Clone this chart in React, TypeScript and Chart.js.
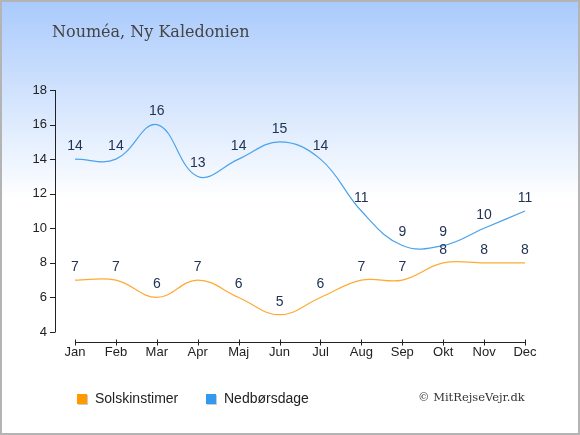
import { useEffect, useRef } from 'react';
import { Chart, registerables } from 'chart.js';

Chart.register(...registerables);

const months = ['Jan', 'Feb', 'Mar', 'Apr', 'Maj', 'Jun', 'Jul', 'Aug', 'Sep', 'Okt', 'Nov', 'Dec'];
const sunHours = [7, 7, 6, 7, 6, 5, 6, 7, 7, 8, 8, 8];
const rainDays = [14, 14, 16, 13, 14, 15, 14, 11, 9, 9, 10, 11];
const yTicks = [4, 6, 8, 10, 12, 14, 16, 18];
const legendLabels = ['Solskinstimer', 'Nedbørsdage'];
const titleText = 'Nouméa, Ny Kaledonien';
const creditText = '© MitRejseVejr.dk';

const decorPlugin = {
  id: 'decor',
  beforeDraw(chart: any) {
    const { ctx, width, height } = chart;
    ctx.save();
    const g = ctx.createLinearGradient(0, 0, 0, 200);
    g.addColorStop(0, '#a9cafc');
    g.addColorStop(1, '#ffffff');
    ctx.fillStyle = '#ffffff';
    ctx.fillRect(0, 0, width, height);
    ctx.fillStyle = g;
    ctx.fillRect(0, 0, width, 200);
    ctx.strokeStyle = '#b4b4b4';
    ctx.lineWidth = 2;
    ctx.strokeRect(1, 1, width - 2, height - 2);

    ctx.fillStyle = '#444444';
    ctx.font = '16px "DejaVu Serif"';
    ctx.textBaseline = 'middle';
    ctx.textAlign = 'left';
    ctx.fillText(titleText, 52, 33);
    ctx.restore();
  },
  afterDraw(chart: any) {
    const { ctx } = chart;
    const x = chart.scales.x;
    const y = chart.scales.y;
    ctx.save();
    ctx.strokeStyle = '#222222';
    ctx.lineWidth = 1;
    // y axis
    const yTop = y.getPixelForValue(yTicks[yTicks.length - 1]);
    const yBot = y.getPixelForValue(yTicks[0]);
    ctx.beginPath();
    ctx.moveTo(55.5, yTop);
    ctx.lineTo(55.5, yBot);
    yTicks.forEach((t) => {
      const py = Math.round(y.getPixelForValue(t)) + 0.5;
      ctx.moveTo(50, py);
      ctx.lineTo(55.5, py);
    });
    // x axis
    const ax = 342.5;
    const x0 = x.getPixelForValue(0);
    const x1 = x.getPixelForValue(months.length - 1);
    ctx.moveTo(x0, ax);
    ctx.lineTo(x1, ax);
    months.forEach((_, i) => {
      const px = Math.round(x.getPixelForValue(i)) + 0.5;
      ctx.moveTo(px, ax - 3);
      ctx.lineTo(px, ax + 3);
    });
    ctx.stroke();

    // data labels
    ctx.fillStyle = '#223355';
    ctx.font = '14px "Liberation Sans"';
    ctx.textAlign = 'center';
    ctx.textBaseline = 'middle';
    chart.data.datasets.forEach((ds: any, di: number) => {
      const meta = chart.getDatasetMeta(di);
      meta.data.forEach((pt: any, i: number) => {
        ctx.fillText(String(ds.data[i]), pt.x, pt.y - 13);
      });
    });

    // legend
    const legendColors = ['#ff9900', '#3399ee'];
    const legendX = [77, 206];
    ctx.textAlign = 'left';
    ctx.font = '14px "Liberation Sans"';
    legendLabels.forEach((label, i) => {
      ctx.fillStyle = '#cccccc';
      ctx.fillRect(legendX[i] + 1, 395, 10, 10);
      ctx.fillStyle = legendColors[i];
      ctx.fillRect(legendX[i], 394, 10, 10);
      ctx.fillStyle = '#222222';
      ctx.fillText(label, legendX[i] + 18, 399);
    });
    ctx.fillStyle = '#333333';
    ctx.font = '11.5px "DejaVu Serif"';
    ctx.fillText(creditText, 418, 398);
    ctx.restore();
  },
};

export default function App() {
  const canvasRef = useRef<HTMLCanvasElement>(null);
  const chartRef = useRef<Chart | null>(null);

  useEffect(() => {
    if (!canvasRef.current) return;
    if (chartRef.current) chartRef.current.destroy();

    chartRef.current = new Chart(canvasRef.current, {
      type: 'line',
      data: {
        labels: months,
        datasets: [
          {
            label: legendLabels[0],
            data: sunHours,
            borderColor: '#ffaa33',
            borderWidth: 1.2,
            pointRadius: 0,
            tension: 0.4,
            fill: false,
          },
          {
            label: legendLabels[1],
            data: rainDays,
            borderColor: '#4aa3ec',
            borderWidth: 1.2,
            pointRadius: 0,
            tension: 0.4,
            fill: false,
          },
        ],
      },
      options: {
        animation: false,
        responsive: false,
        maintainAspectRatio: false,
        layout: { padding: { top: 90, right: 55, left: 0, bottom: 0 } },
        plugins: {
          legend: { display: false },
          tooltip: { enabled: false },
          title: { display: false },
        },
        scales: {
          x: {
            offset: false,
            grid: { display: false, drawTicks: false },
            border: { display: false },
            ticks: {
              color: '#222222',
              padding: 13,
              font: { size: 13, family: 'Liberation Sans' },
              maxRotation: 0,
              autoSkip: false,
            },
            afterFit: (s: any) => {
              s.height = 103;
            },
          },
          y: {
            min: 4,
            max: 18,
            grid: { display: false, drawTicks: false },
            border: { display: false },
            ticks: {
              stepSize: 2,
              color: '#222222',
              padding: 28,
              font: { size: 13, family: 'Liberation Sans' },
            },
            afterFit: (s: any) => {
              s.width = 75;
            },
          },
        },
      },
      plugins: [decorPlugin],
    });

    return () => {
      if (chartRef.current) {
        chartRef.current.destroy();
        chartRef.current = null;
      }
    };
  }, []);

  return (
    <div style={{ position: 'fixed', left: 0, top: 0, width: 580, height: 435 }}>
      <canvas ref={canvasRef} width={580} height={435} style={{ width: 580, height: 435 }} />
    </div>
  );
}
